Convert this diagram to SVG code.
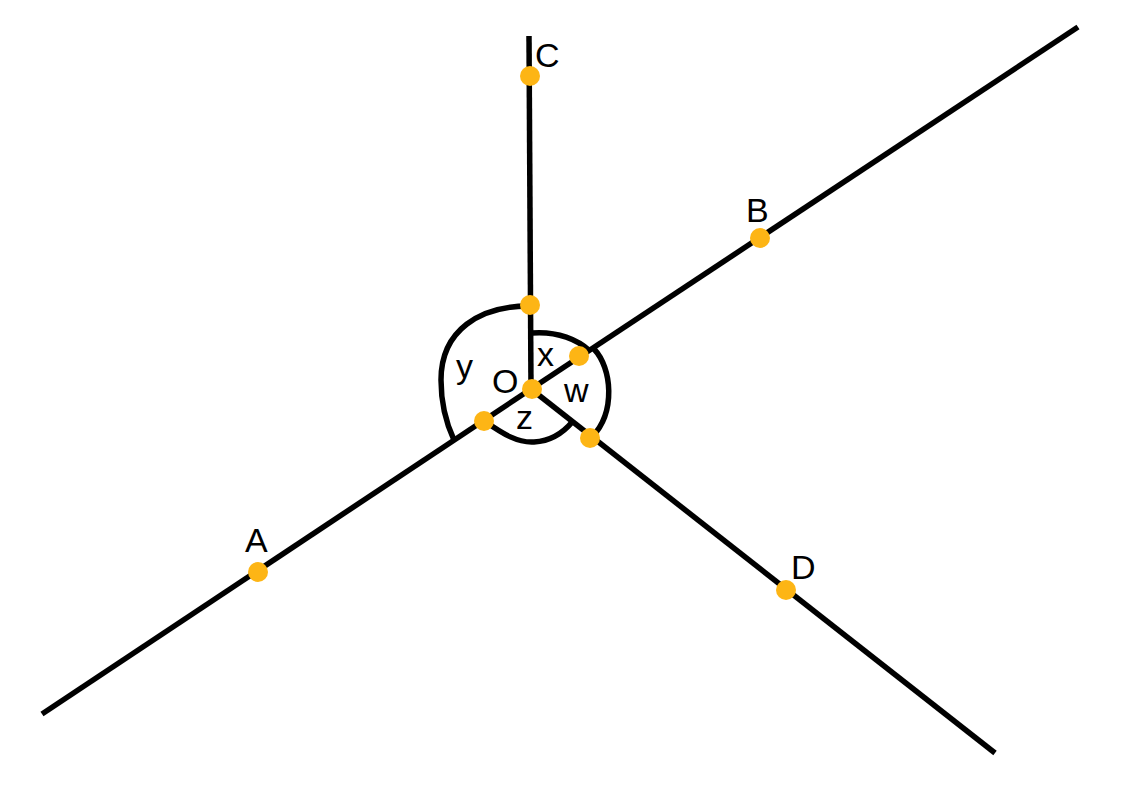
<svg xmlns="http://www.w3.org/2000/svg" width="1123" height="790" viewBox="0 0 1123 790">
<style>
.ln{stroke:#000;stroke-width:5.5;fill:none}
.dot{fill:#FDB515}
text{font-family:"Liberation Sans",Arial,sans-serif;font-size:34px;fill:#000}
</style>
<rect width="1123" height="790" fill="#fff"/>
<g id="connectors">
<line class="ln" x1="531" y1="389" x2="529" y2="36"/>
<line class="ln" x1="531" y1="389" x2="1078" y2="27"/>
<line class="ln" x1="531" y1="389" x2="42" y2="714"/>
<line class="ln" x1="531" y1="389" x2="995" y2="753"/>
<path class="ln" d="M529 306 C480 306 441 330 441 380 C441 405 447 425 454 440"/>
<path class="ln" d="M532 333 C558 331 578 340 590 351"/>
<path class="ln" d="M594 349 C612 368 616 412 592 437"/>
<path class="ln" d="M486 422 C503 434 518 443 534 442 C552 441 564 432 573 421"/>
</g>
<g id="node-C"><circle class="dot" cx="530" cy="76" r="10"/><text x="535" y="67">C</text></g>
<g id="node-B"><circle class="dot" cx="760" cy="238" r="10"/><text x="746" y="222">B</text></g>
<g id="node-A"><circle class="dot" cx="258" cy="572" r="10"/><text x="245" y="552">A</text></g>
<g id="node-D"><circle class="dot" cx="786" cy="590" r="10"/><text x="791" y="579">D</text></g>
<g id="node-O"><circle class="dot" cx="532" cy="389" r="10"/><text x="492" y="393">O</text></g>
<g id="node-p1"><circle class="dot" cx="530" cy="305" r="10"/></g>
<g id="node-p2"><circle class="dot" cx="579" cy="356" r="10"/></g>
<g id="node-p3"><circle class="dot" cx="484" cy="421" r="10"/></g>
<g id="node-p4"><circle class="dot" cx="590" cy="438" r="10"/></g>
<g id="labels">
<text x="537" y="366">x</text>
<text x="456" y="378">y</text>
<text x="564" y="402">w</text>
<text x="516" y="429">z</text>
</g>
</svg>
